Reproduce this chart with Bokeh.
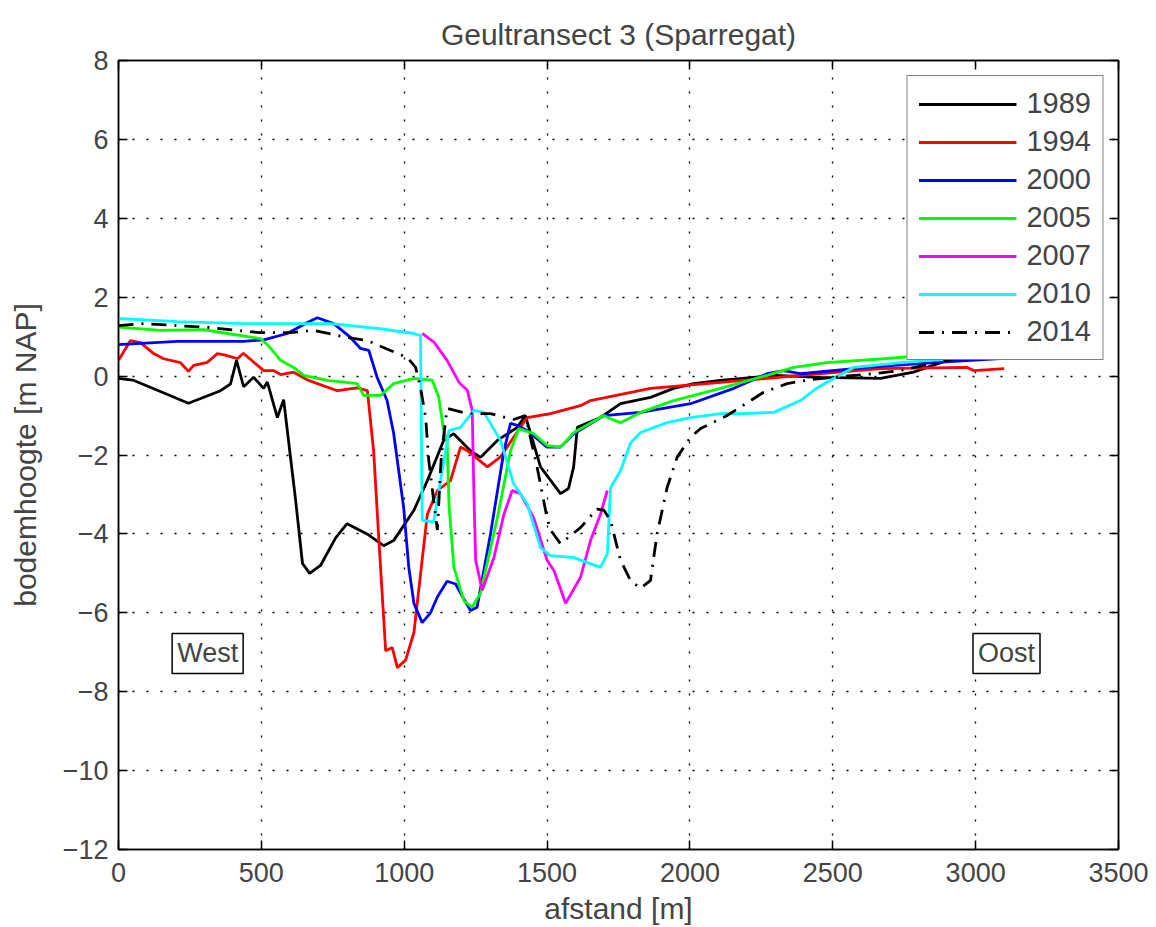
from bokeh.plotting import figure
from bokeh.models import Range1d, LinearAxis, FixedTicker, Legend, LegendItem, Label
from bokeh.embed import file_html
from bokeh.resources import INLINE

FONT = "Liberation Sans"

# ---------------- data ----------------
x_1989 = [0, 50, 245, 357, 392, 413, 438, 473, 508, 521, 556, 578, 620, 644, 669, 707, 760, 800, 870, 928,
          963, 1034, 1081, 1138, 1173, 1232, 1267, 1326, 1396, 1424, 1477, 1547, 1575, 1593, 1606, 1687, 1757,
          1862, 1943, 2013, 2107, 2300, 2450, 2667, 2783, 2900, 3000]
y_1989 = [-0.06, -0.1, -0.69, -0.37, -0.2, 0.4, -0.27, -0.03, -0.31, -0.15, -1.05, -0.6, -3.15, -4.75, -5.0,
          -4.8, -4.1, -3.74, -4.0, -4.3, -4.17, -3.4, -2.65, -1.63, -1.46, -1.89, -2.06, -1.63, -1.3, -1.0,
          -2.3, -2.98, -2.85, -2.3, -1.3, -1.05, -0.7, -0.54, -0.31, -0.19, -0.11, 0.02, -0.03, -0.06, 0.1,
          0.4, 0.58]

x_1994 = [0, 42, 77, 123, 158, 217, 245, 263, 311, 346, 374, 416, 437, 508, 543, 567, 613, 665, 766, 836, 871,
          893, 910, 935, 958, 976, 1005, 1034, 1081, 1116, 1162, 1197, 1221, 1291, 1337, 1383, 1430, 1512, 1617,
          1652, 1862, 2107, 2387, 2667, 2970, 2993, 3100]
y_1994 = [0.4, 0.9, 0.85, 0.57, 0.44, 0.34, 0.12, 0.27, 0.35, 0.57, 0.53, 0.44, 0.58, 0.14, 0.14, 0.04, 0.1,
          -0.11, -0.37, -0.3, -0.37, -1.9, -4.0, -6.96, -6.88, -7.39, -7.2, -6.5, -3.5, -2.9, -2.65, -1.8,
          -1.89, -2.3, -2.05, -1.55, -1.05, -0.95, -0.75, -0.62, -0.31, -0.16, 0.02, 0.19, 0.22, 0.14, 0.19]

x_2000 = [0, 206, 437, 508, 591, 661, 696, 753, 812, 847, 876, 905, 940, 963, 998, 1016, 1034, 1063, 1092, 1116,
          1150, 1180, 1197, 1232, 1255, 1302, 1349, 1372, 1395, 1430, 1500, 1547, 1594, 1699, 1827, 2002, 2154,
          2270, 2328, 2387, 2620, 2853, 3100]
y_2000 = [0.8, 0.88, 0.88, 0.92, 1.08, 1.36, 1.48, 1.33, 0.98, 0.7, 0.65, -0.03, -0.62, -1.45, -3.33, -4.85,
          -5.76, -6.25, -6.0, -5.6, -5.2, -5.27, -5.5, -5.94, -5.86, -4.0, -1.9, -1.2, -1.25, -1.38, -1.8, -1.8,
          -1.46, -1.0, -0.92, -0.7, -0.31, 0.06, 0.14, 0.06, 0.22, 0.34, 0.45]

x_2005 = [0, 147, 298, 381, 497, 525, 567, 613, 648, 731, 836, 858, 917, 963, 1034, 1098, 1121, 1138, 1150, 1157,
          1174, 1209, 1238, 1267, 1326, 1372, 1401, 1453, 1500, 1547, 1594, 1699, 1722, 1757, 1827, 1943, 2107,
          2270, 2363, 2480, 2678, 2853, 3100]
y_2005 = [1.24, 1.16, 1.18, 1.08, 0.95, 0.77, 0.4, 0.22, 0.02, -0.11, -0.19, -0.49, -0.49, -0.19, -0.06, -0.1,
          -0.54, -1.38, -1.63, -3.3, -4.85, -5.7, -5.86, -5.5, -3.59, -1.9, -1.33, -1.46, -1.76, -1.8, -1.43,
          -1.0, -1.08, -1.18, -0.92, -0.62, -0.31, 0.02, 0.22, 0.34, 0.44, 0.54, 0.65]

x_2007 = [1063, 1104, 1150, 1192, 1221, 1238, 1244, 1250, 1273, 1314, 1349, 1378, 1407, 1453, 1500, 1524, 1565,
          1617, 1652, 1687, 1711]
y_2007 = [1.08, 0.86, 0.4, -0.16, -0.36, -0.87, -2.98, -4.67, -5.43, -4.6, -3.5, -2.9, -2.98, -3.59, -4.67,
          -4.93, -5.76, -5.1, -4.17, -3.5, -2.9]

x_2010 = [0, 206, 437, 672, 742, 917, 1034, 1057, 1063, 1103, 1127, 1157, 1197, 1244, 1279, 1337, 1383, 1430,
          1477, 1512, 1594, 1687, 1711, 1722, 1757, 1792, 1827, 1920, 2002, 2107, 2188, 2293, 2387, 2445, 2503,
          2573, 2737, 2970, 3100]
y_2010 = [1.46, 1.38, 1.33, 1.33, 1.33, 1.2, 1.08, 1.03, -3.66, -3.7, -2.65, -1.38, -1.3, -0.87, -0.92, -1.63,
          -2.73, -3.23, -4.35, -4.55, -4.6, -4.85, -4.5, -2.83, -2.4, -1.7, -1.43, -1.18, -1.05, -0.95, -0.95,
          -0.92, -0.62, -0.3, -0.06, 0.22, 0.34, 0.47, 0.55]

x_2014 = [0, 88, 322, 497, 602, 683, 800, 871, 952, 1011, 1040, 1057, 1075, 1086, 1103, 1116, 1130, 1150, 1221,
          1302, 1383, 1424, 1465, 1500, 1512, 1547, 1617, 1675, 1699, 1722, 1757, 1792, 1827, 1862, 1885, 1920,
          1955, 2002, 2037, 2130, 2258, 2340, 2422, 2503, 2643, 2737, 2900, 2993, 3050]
y_2014 = [1.28, 1.33, 1.23, 1.1, 1.1, 1.16, 0.98, 0.9, 0.65, 0.47, 0.22, -0.29, -1.05, -2.14, -3.15, -3.9, -2.0,
          -0.82, -0.95, -0.95, -1.1, -1.0, -2.3, -3.6, -3.9, -4.25, -3.84, -3.37, -3.4, -3.66, -4.67, -5.18,
          -5.38, -5.18, -4.0, -2.83, -2.06, -1.55, -1.33, -1.0, -0.41, -0.19, -0.09, -0.03, 0.06, 0.14, 0.4,
          0.57, 0.65]

years = ["1989", "1994", "2000", "2005", "2007", "2010", "2014"]
series_x = [x_1989, x_1994, x_2000, x_2005, x_2007, x_2010, x_2014]
series_y = [y_1989, y_1994, y_2000, y_2005, y_2007, y_2010, y_2014]
colors = ["#000000", "#FF0000", "#0000FF", "#00FF00", "#FF00FF", "#00FFFF", "#000000"]
dashes = ["solid", "solid", "solid", "solid", "solid", "solid", "15 8 2 8"]

x_ticks = [0, 500, 1000, 1500, 2000, 2500, 3000, 3500]
y_ticks = [-12, -10, -8, -6, -4, -2, 0, 2, 4, 6, 8]
y_tick_labels = ["\u221212", "\u221210", "\u22128", "\u22126", "\u22124", "\u22122", "0", "2", "4", "6", "8"]

# ---------------- figure ----------------
p = figure(width=1156, height=927, output_backend="svg", toolbar_location=None,
           x_range=Range1d(0, 3500), y_range=Range1d(-12, 8),
           min_border_left=118, min_border_right=38, min_border_top=60, min_border_bottom=78,
           x_axis_label="afstand [m]", y_axis_label="bodemhoogte [m NAP]")
p.background_fill_color = "white"
p.border_fill_color = "white"
p.outline_line_color = "black"
p.outline_line_width = 1.5

p.title.text = "Geultransect 3 (Sparregat)"
p.title.align = "center"
p.title.text_font = FONT
p.title.text_font_size = "30px"
p.title.text_font_style = "normal"
p.title.standoff = 20

for ax in (p.xaxis[0], p.yaxis[0]):
    ax.axis_label_text_font = FONT
    ax.axis_label_text_font_size = "30px"
    ax.axis_label_text_font_style = "normal"
    ax.major_label_text_font = FONT
    ax.major_label_text_font_size = "27px"
    ax.major_tick_in = 9
    ax.major_tick_out = 0
    ax.minor_tick_line_color = None
    ax.axis_line_width = 1.5
    ax.major_tick_line_width = 1.5
    ax.axis_line_color = "black"
p.xaxis[0].ticker = FixedTicker(ticks=x_ticks)
p.yaxis[0].ticker = FixedTicker(ticks=y_ticks)
p.yaxis[0].major_label_overrides = {t: l for t, l in zip(y_ticks, y_tick_labels)}
p.xaxis[0].major_label_standoff = 13
p.xaxis[0].axis_label_standoff = 7
p.yaxis[0].major_label_standoff = 10
p.yaxis[0].axis_label_standoff = 18

top = LinearAxis(ticker=FixedTicker(ticks=x_ticks), major_label_text_font_size="1px",
                 major_label_text_color=None, major_label_standoff=0,
                 major_tick_in=9, major_tick_out=0, minor_tick_line_color=None,
                 axis_line_width=1.5, major_tick_line_width=1.5)
right = LinearAxis(ticker=FixedTicker(ticks=y_ticks), major_label_text_font_size="1px",
                   major_label_text_color=None, major_label_standoff=0,
                   major_tick_in=9, major_tick_out=0, minor_tick_line_color=None,
                   axis_line_width=1.5, major_tick_line_width=1.5)
p.add_layout(top, "above")
p.add_layout(right, "right")

for g in (p.xgrid[0], p.ygrid[0]):
    g.grid_line_color = "black"
    g.grid_line_alpha = 1.0
    g.grid_line_width = 1.3
    g.grid_line_dash = "2 12"
p.xgrid[0].ticker = FixedTicker(ticks=x_ticks)
p.ygrid[0].ticker = FixedTicker(ticks=y_ticks)

items = []
for yr, xs, ys, c, d in zip(years, series_x, series_y, colors, dashes):
    r = p.line(xs, ys, line_color=c, line_width=2.8, line_dash=d)
    items.append(LegendItem(label=yr, renderers=[r]))

legend = Legend(items=items, location="top_right")
legend.label_text_font = FONT
legend.label_text_font_size = "29px"
legend.label_height = 30
legend.glyph_height = 30
legend.glyph_width = 98
legend.label_standoff = 10
legend.spacing = 5
legend.padding = 11
legend.margin = 15
legend.border_line_color = "black"
legend.border_line_width = 1.5
legend.background_fill_color = "white"
legend.background_fill_alpha = 1.0
p.add_layout(legend)

for txt, xv in (("West", 312), ("Oost", 3108)):
    lab = Label(x=xv, y=-7.03, text=txt, text_font=FONT, text_font_size="27px",
                text_align="center", text_baseline="middle",
                border_line_color="black", border_line_width=1.5,
                background_fill_color="white", padding=5)
    p.add_layout(lab)

open("out.html", "w").write(file_html(p, INLINE))
